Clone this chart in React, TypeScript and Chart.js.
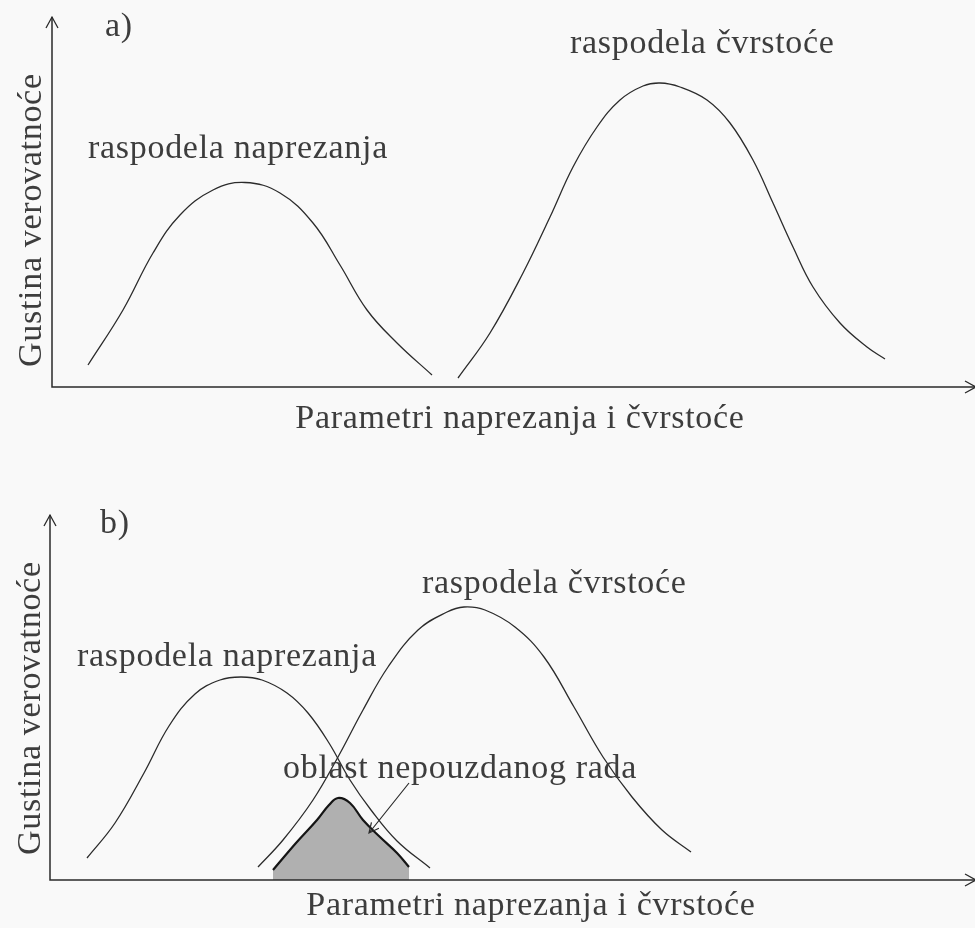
import { useEffect, useRef } from "react";
import { Chart, registerables } from "chart.js";

Chart.register(...registerables);

// ---------- data ----------
// panel a)
const stressA_x = [3.6, 7.1, 10.1, 12.8, 16.1, 19.3, 22.8, 26.1, 28.8, 31.5, 34.5, 38.0];
const stressA_y = [2.2, 7.7, 13.4, 17.2, 19.7, 20.45, 19.4, 16.4, 12.2, 7.7, 4.4, 1.2];
const strengthA_x = [40.6, 43.8, 47.1, 49.8, 52.1, 54.5, 56.8, 59.1, 60.8, 62.8, 65.5, 67.8, 70.1, 72.1, 74.1, 76.1, 78.8, 81.5, 83.3];
const strengthA_y = [0.9, 5.4, 11.4, 17.0, 22.0, 26.0, 28.7, 30.1, 30.4, 30.0, 28.7, 26.4, 22.7, 18.4, 14.0, 10.0, 6.4, 4.0, 2.8];

// panel b)
const stressB_x = [3.7, 6.5, 9.4, 11.9, 14.5, 17.0, 19.1, 21.2, 23.7, 25.8, 27.9, 30.0, 32.1, 34.7, 38.0];
const stressB_y = [2.2, 5.7, 10.7, 15.4, 18.6, 20.0, 20.3, 20.0, 18.7, 16.7, 13.7, 10.0, 7.0, 3.9, 1.2];
const strengthB_x = [20.8, 23.3, 26.3, 28.8, 31.3, 33.8, 36.8, 39.7, 41.4, 43.5, 46.5, 49.4, 52.4, 55.3, 58.2, 61.2, 64.1];
const strengthB_y = [1.3, 4.0, 8.0, 12.3, 17.0, 21.3, 25.0, 26.8, 27.3, 27.0, 25.3, 22.3, 17.3, 12.3, 8.3, 5.0, 2.8];
const failure_x = [22.3, 24.6, 26.7, 27.9, 28.8, 30.0, 31.3, 33.0, 34.7, 35.9];
const failure_y = [1.0, 3.7, 6.0, 7.5, 8.2, 7.7, 6.0, 4.3, 2.7, 1.3];

// texts
const X_TITLE = "Parametri naprezanja i čvrstoće";
const Y_TITLE = "Gustina verovatnoće";
const STRESS_LABEL = "raspodela naprezanja";
const STRENGTH_LABEL = "raspodela čvrstoće";
const FAILURE_LABEL = "oblast nepouzdanog rada";
const PANEL_A = "a)";
const PANEL_B = "b)";

// ---------- styles ----------
const INK = "#3d3d3d";
const AXIS = "#2a2a2a";
const FONT = "34px 'Liberation Serif', 'Times New Roman', serif";
const CURVE = "#2b2b2b";
const SHADE = "#b0b0b0";
const BG = "#f9f9f9";

const pts = (xs: number[], ys: number[]) => xs.map((x, i) => ({ x, y: ys[i] }));

const curve = (xs: number[], ys: number[]) => ({
  data: pts(xs, ys),
  showLine: true,
  borderColor: CURVE,
  borderWidth: 1.3,
  pointRadius: 0,
  tension: 0.4,
  fill: false,
});

const sketchPlugin = {
  id: "sketch",
  afterDatasetsDraw(chart: any, _args: any, opts: any) {
    const { ctx, chartArea: a, scales } = chart;
    const xs = scales.x;
    const ys = scales.y;
    ctx.save();
    // axes
    ctx.strokeStyle = AXIS;
    ctx.lineWidth = 1.5;
    ctx.beginPath();
    ctx.moveTo(a.left, a.top);
    ctx.lineTo(a.left, a.bottom);
    ctx.lineTo(a.right, a.bottom);
    ctx.stroke();
    ctx.lineWidth = 1.3;
    ctx.beginPath();
    ctx.moveTo(a.left - 6, a.top + 11);
    ctx.lineTo(a.left, a.top);
    ctx.lineTo(a.left + 6, a.top + 11);
    ctx.moveTo(a.right - 10, a.bottom - 6);
    ctx.lineTo(a.right + 1, a.bottom);
    ctx.lineTo(a.right - 10, a.bottom + 6);
    ctx.stroke();

    // texts
    ctx.fillStyle = INK;
    ctx.font = FONT;
    (ctx as any).letterSpacing = "0.7px";
    ctx.textBaseline = "alphabetic";
    ctx.textAlign = "left";
    for (const l of opts.labels) {
      ctx.fillText(l.text, xs.getPixelForValue(l.x), ys.getPixelForValue(l.y));
    }
    // x title
    ctx.textAlign = "center";
    ctx.fillText(X_TITLE, (a.left + a.right) / 2 + opts.xTitleShift, a.bottom + opts.xTitleGap);
    // y title
    ctx.save();
    ctx.translate(a.left + opts.yTitleOffset, a.bottom - opts.yTitleGap);
    ctx.rotate(-Math.PI / 2);
    ctx.textAlign = "left";
    ctx.fillText(Y_TITLE, 0, 0);
    ctx.restore();

    // pointer arrow
    if (opts.pointer) {
      const p = opts.pointer;
      const x0 = xs.getPixelForValue(p.from[0]);
      const y0 = ys.getPixelForValue(p.from[1]);
      const x1 = xs.getPixelForValue(p.to[0]);
      const y1 = ys.getPixelForValue(p.to[1]);
      ctx.strokeStyle = AXIS;
      ctx.lineWidth = 1.2;
      ctx.beginPath();
      ctx.moveTo(x0, y0);
      ctx.lineTo(x1, y1);
      const ang = Math.atan2(y1 - y0, x1 - x0);
      const L = 11;
      const spread = 0.45;
      ctx.moveTo(x1 - L * Math.cos(ang - spread), y1 - L * Math.sin(ang - spread));
      ctx.lineTo(x1, y1);
      ctx.lineTo(x1 - L * Math.cos(ang + spread), y1 - L * Math.sin(ang + spread));
      ctx.stroke();
    }
    ctx.restore();
  },
};

function makeChart(canvas: HTMLCanvasElement, datasets: any[], pad: any, yMax: number, xMax: number, sketch: any) {
  return new Chart(canvas, {
    type: "scatter",
    data: { datasets },
    options: {
      animation: false,
      responsive: false,
      maintainAspectRatio: false,
      layout: { padding: pad },
      scales: {
        x: { type: "linear", min: 0, max: xMax, display: false },
        y: { type: "linear", min: 0, max: yMax, display: false },
      },
      plugins: {
        legend: { display: false },
        tooltip: { enabled: false },
        sketch,
      } as any,
    },
    plugins: [sketchPlugin],
  } as any);
}

export default function App() {
  const refA = useRef<HTMLCanvasElement>(null);
  const refB = useRef<HTMLCanvasElement>(null);

  useEffect(() => {
    const a = makeChart(
      refA.current!,
      [curve(stressA_x, stressA_y), curve(strengthA_x, strengthA_y)],
      { left: 52, right: 0, top: 17, bottom: 77 },
      37,
      92.3,
      {
        labels: [
          { text: PANEL_A, x: 5.3, y: 35.1 },
          { text: STRESS_LABEL, x: 3.6, y: 22.9 },
          { text: STRENGTH_LABEL, x: 51.8, y: 33.4 },
        ],
        xTitleShift: 6.5,
        xTitleGap: 41,
        yTitleOffset: -11,
        yTitleGap: 20,
      }
    );
    const b = makeChart(
      refB.current!,
      [
        {
          data: pts(failure_x, failure_y),
          showLine: true,
          borderColor: "#151515",
          borderWidth: 2.2,
          backgroundColor: SHADE,
          pointRadius: 0,
          tension: 0.4,
          fill: "origin",
        },
        curve(stressB_x, stressB_y),
        curve(strengthB_x, strengthB_y),
      ],
      { left: 50, right: 0, top: 51, bottom: 48 },
      36.5,
      92.5,
      {
        labels: [
          { text: PANEL_B, x: 5.0, y: 34.7 },
          { text: STRESS_LABEL, x: 2.7, y: 21.4 },
          { text: STRENGTH_LABEL, x: 37.2, y: 28.7 },
          { text: FAILURE_LABEL, x: 23.3, y: 10.2 },
        ],
        pointer: { from: [35.9, 9.7], to: [31.9, 4.7] },
        xTitleShift: 18.5,
        xTitleGap: 35,
        yTitleOffset: -10,
        yTitleGap: 25,
      }
    );
    return () => {
      a.destroy();
      b.destroy();
    };
  }, []);

  return (
    <div style={{ position: "absolute", left: 0, top: 0, width: 975, height: 928, background: BG }}>
      <canvas ref={refA} width={975} height={464} style={{ display: "block" }} />
      <canvas ref={refB} width={975} height={464} style={{ display: "block" }} />
    </div>
  );
}
